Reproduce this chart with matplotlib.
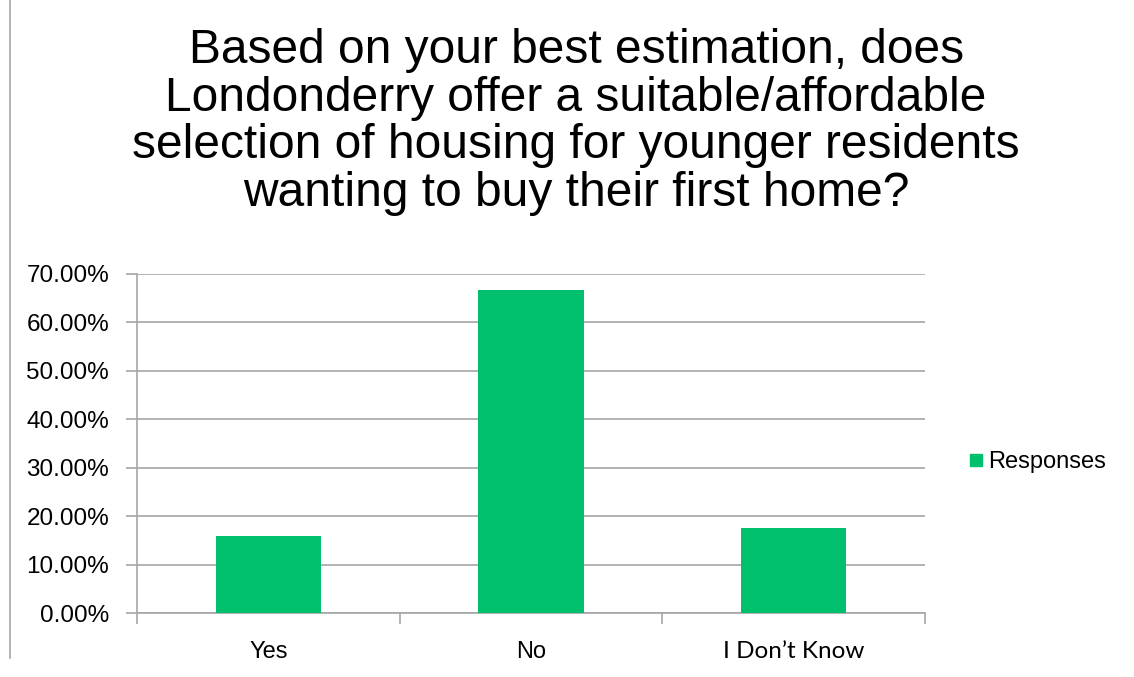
import matplotlib.pyplot as plt
from matplotlib.ticker import FuncFormatter, FixedLocator
from matplotlib.lines import Line2D

categories = ['Yes', 'No', 'I Don\u2019t Know']
responses = [15.9, 66.7, 17.5]
yticks = [0, 10, 20, 30, 40, 50, 60, 70]

green = '#00c06e'
grey = '#a6a6a6'

plt.rcParams['font.family'] = ['Liberation Sans', 'DejaVu Sans']

fig = plt.figure(figsize=(11.34, 6.77), dpi=100)
ax = fig.add_axes([137/1134, 1 - 613/677, (925-137)/1134, (613-274)/677])

x = list(range(len(categories)))
ax.bar(x, responses, width=0.4, color=green, zorder=3, label='Responses')

ax.set_xlim(-0.5, 2.5)
ax.set_ylim(0, 70)
ax.set_yticks(yticks)
ax.yaxis.set_major_formatter(FuncFormatter(lambda v, p: '%.2f%%' % v))
ax.grid(axis='y', color=grey, linewidth=1.2, zorder=0)

for s in ['top', 'right']:
    ax.spines[s].set_visible(False)
for s in ['left', 'bottom']:
    ax.spines[s].set_color(grey)
    ax.spines[s].set_linewidth(1.2)

ax.tick_params(axis='y', length=8, color=grey, width=1.2, labelsize=17.5, pad=12)
ax.xaxis.set_major_locator(FixedLocator([-0.5, 0.5, 1.5, 2.5]))
ax.xaxis.set_major_formatter(FuncFormatter(lambda v, p: ''))
ax.xaxis.set_minor_locator(FixedLocator(x))
ax.set_xticklabels(categories, minor=True)
ax.tick_params(axis='x', which='major', length=8, color=grey, width=1.2)
ax.tick_params(axis='x', which='minor', length=0, labelsize=17, pad=20)
for lbl in ax.get_xticklabels(minor=True):
    if 'Know' in lbl.get_text():
        lbl.set_family(['Lato', 'DejaVu Sans'])
        lbl.set_fontsize(17.5)

fig.text(0.508, 1 - 122/677,
         'Based on your best estimation, does\nLondonderry offer a suitable/affordable\n'
         'selection of housing for younger residents\nwanting to buy their first home?',
         ha='center', va='center', fontsize=34.5, linespacing=1.07)

fig.legend(handles=[Line2D([], [], marker='s', linestyle='none', color=green,
                           markersize=9)],
           labels=['Responses'], loc='center left', bbox_to_anchor=(949/1134, 1 - 462/677),
           frameon=False, fontsize=17, handletextpad=-0.25, handlelength=1.5,
           borderaxespad=0)

fig.add_artist(Line2D([10/1134, 10/1134], [1 - 658/677, 1], color=grey, linewidth=1.2))

fig.savefig('out.png', dpi=100)
